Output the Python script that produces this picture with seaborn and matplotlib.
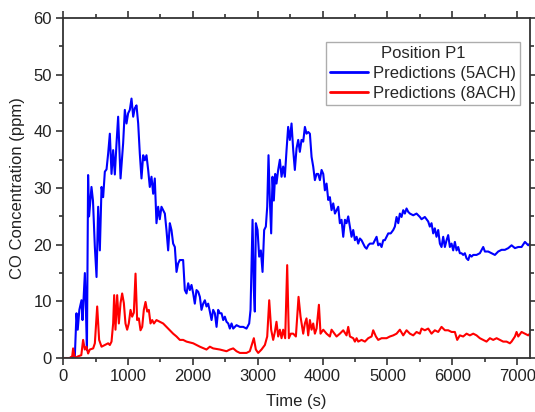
import matplotlib
matplotlib.use("Agg")
import matplotlib.pyplot as plt
import seaborn as sns
import pandas as pd
from matplotlib.ticker import MultipleLocator

# ---- data: (time s, CO ppm) pairs ----
series_5ach = [
    (0, 0), (100, 0), (180, 0.2), (206, 7.9), (225, 5.0), (250, 8.5), (283, 10.2), (299, 6.7),
    (335, 15.0), (350, 9.0), (367, 1.4), (375, 16.0), (385, 32.3), (400, 25.0), (437, 30.2),
    (460, 27.8), (489, 19.6), (515, 14.3), (540, 26.7), (566, 19.0), (592, 30.2), (617, 28.4),
    (643, 32.9), (669, 33.3), (694, 36.1), (720, 39.6), (746, 32.5), (771, 36.7), (797, 32.4),
    (823, 37.9), (848, 42.6), (885, 31.7), (925, 37.9), (951, 43.8), (977, 41.4), (1002, 43.2),
    (1028, 43.8), (1054, 45.8), (1080, 42.6), (1105, 44.1), (1131, 44.6), (1157, 41.4),
    (1182, 36.1), (1208, 31.7), (1234, 35.8), (1259, 34.9), (1285, 35.8), (1311, 33.2),
    (1336, 30.2), (1362, 32.0), (1388, 29.0), (1413, 31.7), (1439, 23.8), (1465, 26.7),
    (1490, 24.5), (1516, 26.7), (1542, 26.1), (1568, 25.5), (1593, 22.6), (1619, 19.0),
    (1645, 23.8), (1670, 22.6), (1696, 20.2), (1722, 19.6), (1748, 15.2), (1773, 16.7),
    (1799, 17.3), (1850, 17.3), (1876, 12.0), (1902, 11.4), (1928, 13.2), (1953, 12.0),
    (1979, 12.9), (2005, 11.4), (2030, 9.6), (2056, 12.0), (2082, 11.7), (2108, 10.8),
    (2133, 8.5), (2159, 9.6), (2185, 10.2), (2210, 9.1), (2236, 9.6), (2262, 8.2), (2288, 6.7),
    (2313, 8.5), (2339, 7.9), (2365, 5.5), (2390, 8.5), (2416, 7.9), (2442, 7.9), (2468, 6.7),
    (2493, 7.3), (2519, 6.4), (2545, 6.1), (2570, 5.2), (2596, 6.1), (2622, 5.2), (2673, 5.8),
    (2725, 5.5), (2776, 5.5), (2827, 5.2), (2868, 6.1), (2889, 8.5), (2920, 24.4), (2940, 12.0),
    (2955, 8.2), (2971, 23.8), (2997, 22.6), (3022, 17.9), (3048, 19.0), (3074, 15.2),
    (3099, 22.6), (3125, 23.2), (3146, 26.7), (3166, 35.8), (3187, 27.8), (3207, 22.0),
    (3228, 32.0), (3248, 27.8), (3269, 32.5), (3289, 30.8), (3315, 33.2), (3341, 35.0),
    (3367, 32.0), (3392, 33.8), (3418, 32.0), (3444, 36.7), (3469, 40.8), (3495, 38.5),
    (3521, 41.4), (3547, 36.7), (3572, 33.2), (3598, 37.0), (3624, 38.5), (3649, 36.4),
    (3675, 38.5), (3701, 38.2), (3727, 40.8), (3752, 39.6), (3778, 39.9), (3804, 39.6),
    (3830, 35.5), (3855, 33.8), (3881, 31.4), (3907, 32.5), (3932, 32.5), (3958, 31.4),
    (3984, 33.2), (4010, 32.5), (4035, 29.6), (4061, 30.8), (4087, 27.9), (4112, 28.4),
    (4138, 26.1), (4164, 27.3), (4190, 25.5), (4215, 26.1), (4241, 26.7), (4266, 23.8),
    (4292, 24.4), (4318, 21.4), (4344, 24.4), (4369, 23.8), (4395, 25.0), (4421, 23.2),
    (4446, 21.4), (4472, 22.6), (4498, 20.8), (4524, 21.4), (4549, 20.2), (4575, 21.1),
    (4600, 20.8), (4626, 20.2), (4652, 19.6), (4678, 19.3), (4703, 19.9), (4729, 20.2),
    (4780, 20.2), (4832, 21.4), (4857, 19.9), (4883, 20.2), (4909, 19.6), (4935, 20.8),
    (4960, 20.8), (4986, 21.4), (5012, 22.0), (5050, 22.0), (5089, 22.6), (5114, 23.2),
    (5140, 24.9), (5166, 23.8), (5191, 25.5), (5217, 24.9), (5243, 26.1), (5268, 25.5),
    (5294, 26.4), (5320, 25.8), (5346, 25.5), (5397, 25.2), (5448, 25.5), (5500, 24.9),
    (5525, 24.5), (5576, 24.9), (5628, 24.1), (5653, 23.2), (5679, 23.8), (5705, 22.0),
    (5730, 22.9), (5756, 21.4), (5782, 22.6), (5808, 20.2), (5833, 19.6), (5859, 21.4),
    (5885, 19.6), (5911, 20.8), (5936, 21.7), (5962, 19.6), (5988, 20.2), (6013, 19.0),
    (6039, 20.5), (6065, 19.0), (6090, 19.6), (6116, 18.5), (6142, 18.5), (6167, 18.2),
    (6193, 18.5), (6219, 17.6), (6245, 17.3), (6270, 18.2), (6296, 17.9), (6322, 18.2),
    (6373, 18.2), (6424, 18.5), (6476, 19.6), (6502, 18.8), (6553, 18.8), (6605, 18.5),
    (6656, 18.2), (6707, 18.8), (6759, 19.1), (6810, 19.1), (6862, 19.4), (6913, 19.9),
    (6965, 19.4), (7016, 19.6), (7067, 19.6), (7119, 20.5), (7170, 19.9), (7195, 20.2),
]

series_8ach = [
    (0, 0), (100, 0), (140, 0.3), (154, 1.7), (180, 0), (231, 0.3), (280, 0.5), (308, 3.2),
    (334, 1.5), (360, 2.0), (385, 0.8), (411, 1.5), (463, 1.7), (489, 2.6), (525, 9.1),
    (555, 3.2), (592, 2.0), (643, 2.3), (694, 2.6), (720, 2.3), (746, 2.9), (771, 6.1),
    (787, 11.1), (807, 5.0), (833, 11.1), (859, 6.1), (885, 9.7), (910, 11.4), (936, 9.7),
    (961, 6.1), (987, 5.0), (1012, 6.1), (1039, 8.5), (1064, 7.3), (1090, 8.0), (1116, 14.9),
    (1141, 6.7), (1167, 7.0), (1193, 4.9), (1219, 5.5), (1244, 8.5), (1270, 9.9), (1296, 8.2),
    (1321, 8.5), (1347, 6.1), (1373, 6.7), (1400, 6.1), (1439, 6.7), (1490, 6.4), (1542, 6.1),
    (1593, 5.5), (1645, 4.9), (1696, 4.3), (1748, 3.8), (1799, 3.2), (1850, 3.2), (1902, 2.9),
    (2005, 2.6), (2108, 2.0), (2210, 1.5), (2262, 2.0), (2313, 1.7), (2416, 1.5), (2519, 1.2),
    (2570, 1.5), (2622, 1.7), (2673, 1.2), (2725, 0.9), (2827, 0.9), (2878, 1.2), (2940, 3.5),
    (2971, 1.5), (3007, 0.9), (3058, 1.5), (3110, 2.3), (3146, 3.8), (3177, 10.2), (3207, 5.0),
    (3238, 3.2), (3264, 4.6), (3289, 6.4), (3315, 3.8), (3341, 5.0), (3367, 3.5), (3392, 5.0),
    (3423, 3.5), (3454, 16.4), (3480, 3.5), (3510, 4.3), (3547, 4.3), (3588, 3.8), (3629, 10.8),
    (3660, 7.3), (3701, 4.3), (3727, 6.1), (3752, 7.0), (3778, 4.0), (3804, 6.7), (3830, 5.0),
    (3855, 6.1), (3881, 4.3), (3907, 5.2), (3943, 9.4), (3968, 4.3), (4010, 5.0), (4061, 4.3),
    (4112, 3.8), (4138, 5.0), (4164, 4.6), (4215, 3.8), (4266, 4.3), (4318, 4.9), (4369, 4.0),
    (4395, 5.5), (4421, 3.8), (4472, 3.5), (4498, 2.9), (4524, 3.5), (4549, 2.9), (4600, 3.2),
    (4652, 2.9), (4703, 3.5), (4755, 3.8), (4780, 4.9), (4822, 3.8), (4857, 3.2), (4909, 3.5),
    (4986, 3.5), (5037, 3.8), (5089, 4.0), (5140, 4.3), (5191, 5.0), (5243, 4.0), (5294, 4.9),
    (5346, 4.3), (5397, 4.0), (5448, 4.6), (5500, 4.3), (5525, 5.2), (5576, 4.9), (5628, 5.2),
    (5679, 4.3), (5730, 4.9), (5782, 4.6), (5833, 5.5), (5885, 4.9), (5936, 4.9), (5988, 4.6),
    (6039, 4.6), (6075, 3.2), (6116, 4.0), (6167, 3.8), (6219, 4.3), (6270, 4.0), (6322, 4.3),
    (6373, 4.0), (6424, 3.5), (6476, 3.2), (6527, 2.9), (6579, 3.5), (6630, 3.2), (6682, 3.5),
    (6733, 3.2), (6784, 2.9), (6836, 2.9), (6887, 2.6), (6913, 2.9), (6965, 3.8), (6990, 4.6),
    (7016, 3.8), (7067, 4.6), (7119, 4.3), (7170, 4.0), (7195, 4.3),
]

label_5 = "Predictions (5ACH)"
label_8 = "Predictions (8ACH)"
legend_title = "Position P1"
x_label = "Time (s)"
y_label = "CO Concentration (ppm)"

sns.set_style("ticks")
plt.rcParams["font.family"] = ["Liberation Sans", "DejaVu Sans"]

fig = plt.figure(figsize=(5.35, 4.12), dpi=100)
ax = fig.add_axes([0.118, 0.131, 0.873, 0.825])

df5 = pd.DataFrame(series_5ach, columns=["t", "c"])
df8 = pd.DataFrame(series_8ach, columns=["t", "c"])
sns.lineplot(data=df5, x="t", y="c", ax=ax, color="#0000FF", linewidth=1.5, label=label_5)
sns.lineplot(data=df8, x="t", y="c", ax=ax, color="#FF0000", linewidth=1.5, label=label_8)

ax.set_xlim(0, 7200)
ax.set_ylim(0, 60)
ax.xaxis.set_major_locator(MultipleLocator(1000))
ax.xaxis.set_minor_locator(MultipleLocator(500))
ax.yaxis.set_major_locator(MultipleLocator(10))
ax.yaxis.set_minor_locator(MultipleLocator(5))
ax.tick_params(which="both", direction="out", top=True, right=True, labelsize=12,
               color="#333333", labelcolor="#222222", width=1.2, pad=3)
ax.tick_params(which="major", length=5)
ax.tick_params(which="minor", length=3)
for s in ax.spines.values():
    s.set_linewidth(1.3)
    s.set_color("#333333")
    s.set_visible(True)

ax.set_xlabel(x_label, fontsize=12, color="#222222", labelpad=7)
ax.set_ylabel(y_label, fontsize=12, color="#222222", labelpad=6)

leg = ax.legend(title=legend_title, loc="upper right", bbox_to_anchor=(0.979, 0.93),
                fontsize=12, title_fontsize=12, frameon=True, fancybox=False,
                edgecolor="#999999", handlelength=2.3, borderpad=0.25, labelspacing=0.3,
                handletextpad=0.3, borderaxespad=0)
leg.get_frame().set_linewidth(1.0)
for line in leg.get_lines():
    line.set_linewidth(2.0)

fig.savefig("out.png", dpi=100)
